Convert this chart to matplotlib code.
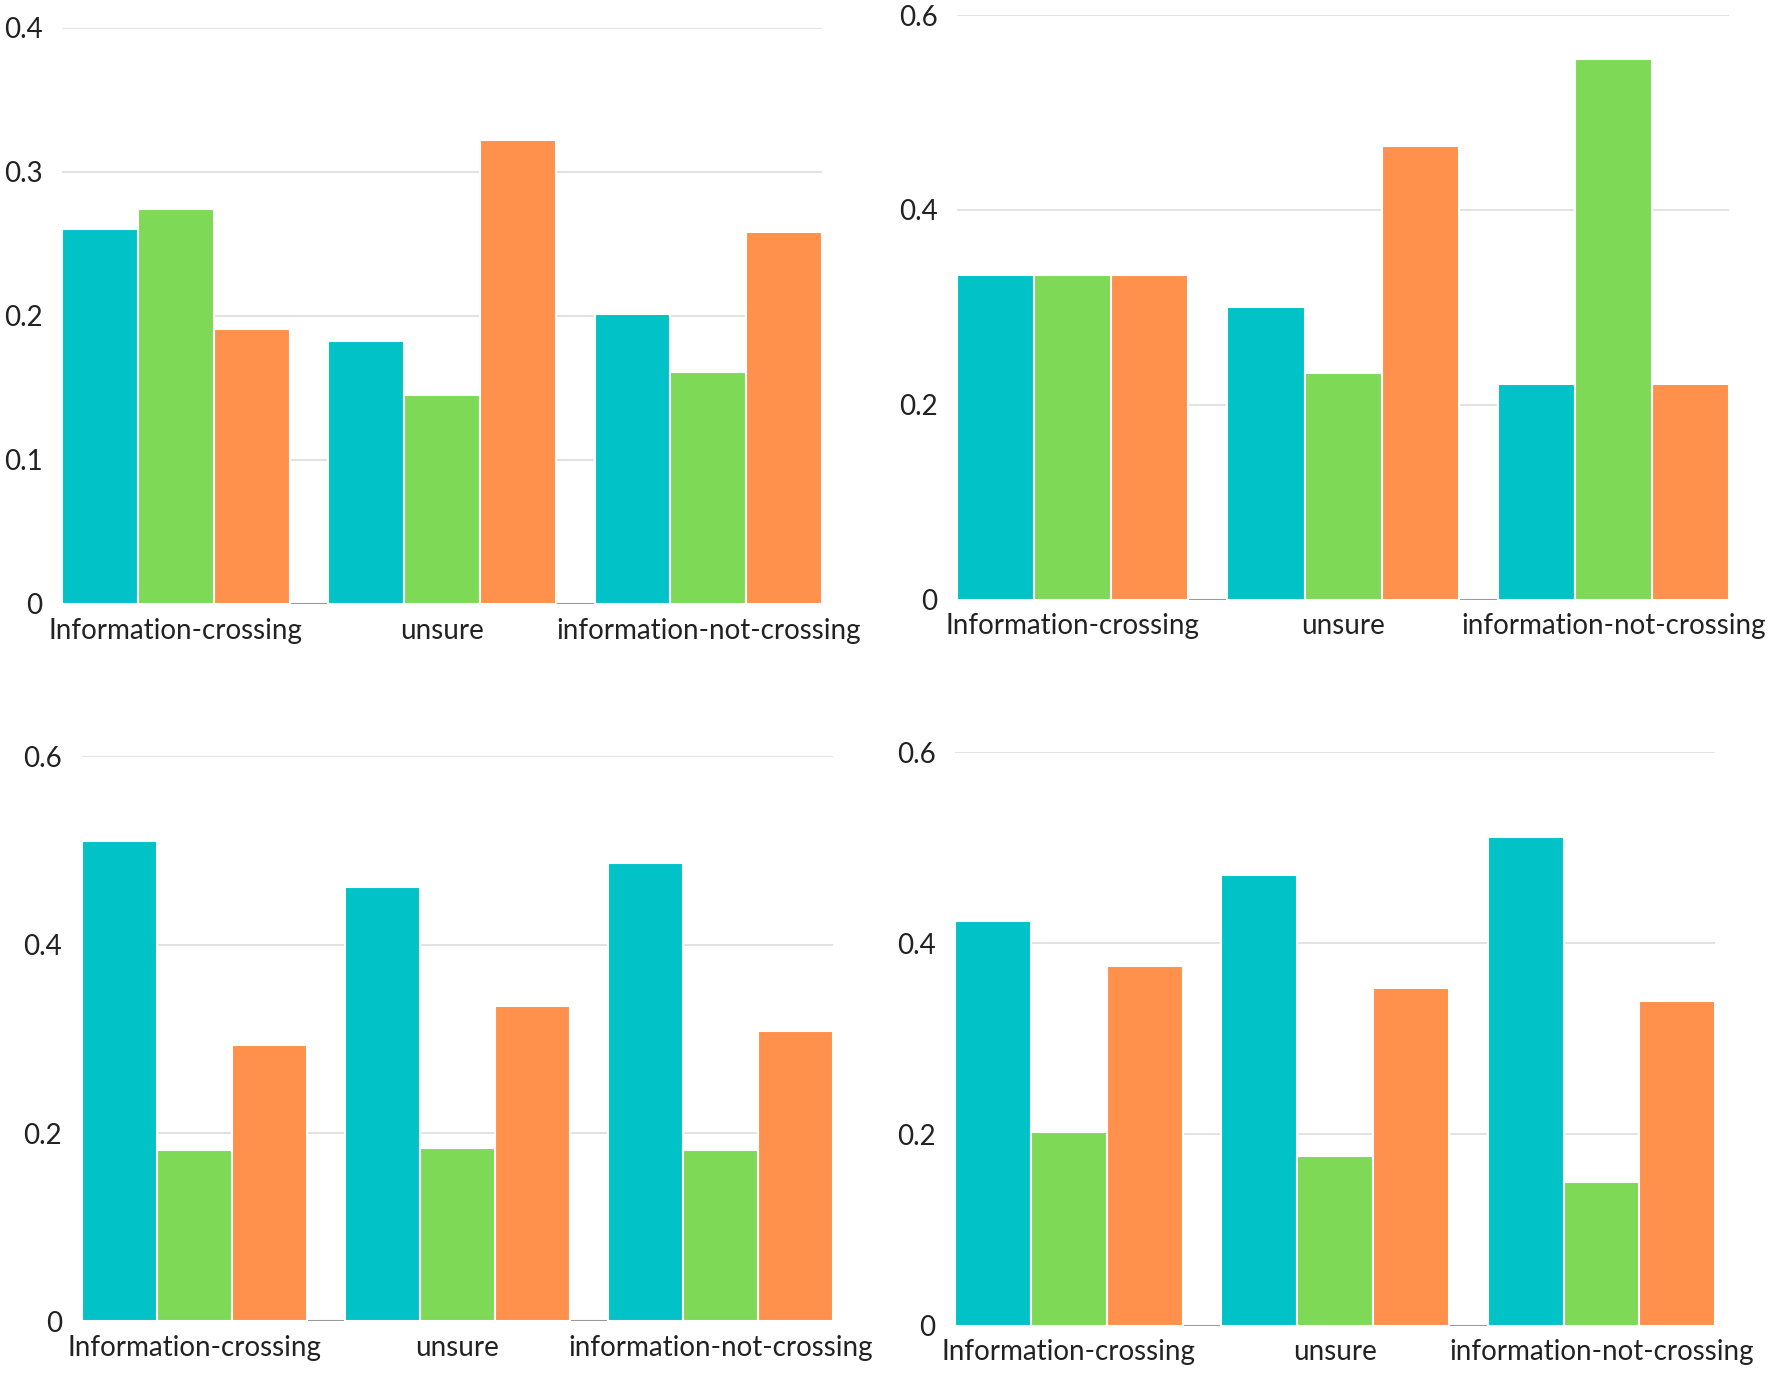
import numpy as np
import matplotlib
matplotlib.use('Agg')
import matplotlib.pyplot as plt
from matplotlib.ticker import FuncFormatter

plt.rcParams['font.family'] = ['Lato', 'DejaVu Sans']

categories = ['Information-crossing', 'unsure', 'information-not-crossing']
colors = ['#00C2C7', '#7ED957', '#FF914D']

# values per panel: one list per series (cyan, green, orange)
tl_values = [[0.260, 0.182, 0.201],
             [0.274, 0.145, 0.161],
             [0.191, 0.322, 0.258]]
tr_values = [[0.333, 0.300, 0.221],
             [0.333, 0.233, 0.555],
             [0.333, 0.466, 0.221]]
bl_values = [[0.510, 0.461, 0.487],
             [0.182, 0.184, 0.182],
             [0.293, 0.335, 0.308]]
br_values = [[0.423, 0.471, 0.511],
             [0.202, 0.177, 0.150],
             [0.376, 0.353, 0.340]]

tl_ticks = [0, 0.1, 0.2, 0.3, 0.4]
six_ticks = [0, 0.2, 0.4, 0.6]


def fmt(v, pos):
    return '0' if v == 0 else '%.1f' % v


def barpanel(rect, values, ticks):
    ax = fig.add_axes(rect)
    x = np.arange(len(categories))
    w = 0.285
    for i, vals in enumerate(values):
        ax.bar(x + (i - 1) * w, vals, width=w, color=colors[i],
               edgecolor='white', linewidth=1.5, zorder=3)
    half = 1.5 * w
    ax.set_xlim(-half, len(categories) - 1 + half)
    ax.set_ylim(0, ticks[-1])
    ax.set_yticks(ticks)
    ax.yaxis.set_major_formatter(FuncFormatter(fmt))
    ax.set_xticks(x)
    ax.set_xticklabels(categories)
    ax.grid(axis='y', color='#DDDDDD', linewidth=1.2, zorder=0)
    ax.axhline(0, color='#999999', linewidth=1.5, zorder=2)
    for s in ax.spines.values():
        s.set_visible(False)
    ax.tick_params(axis='both', length=0, labelsize=20, labelcolor='#222222')
    ax.tick_params(axis='y', pad=14)
    ax.tick_params(axis='x', pad=10)
    return ax


fig = plt.figure(figsize=(17.72, 13.75), dpi=100)
barpanel([0.035, 0.561, 0.429, 0.419], tl_values, tl_ticks)
barpanel([0.540, 0.564, 0.436, 0.425], tr_values, six_ticks)
barpanel([0.046, 0.039, 0.424, 0.411], bl_values, six_ticks)
barpanel([0.539, 0.036, 0.429, 0.417], br_values, six_ticks)

fig.savefig('out.png', dpi=100, facecolor='white')
